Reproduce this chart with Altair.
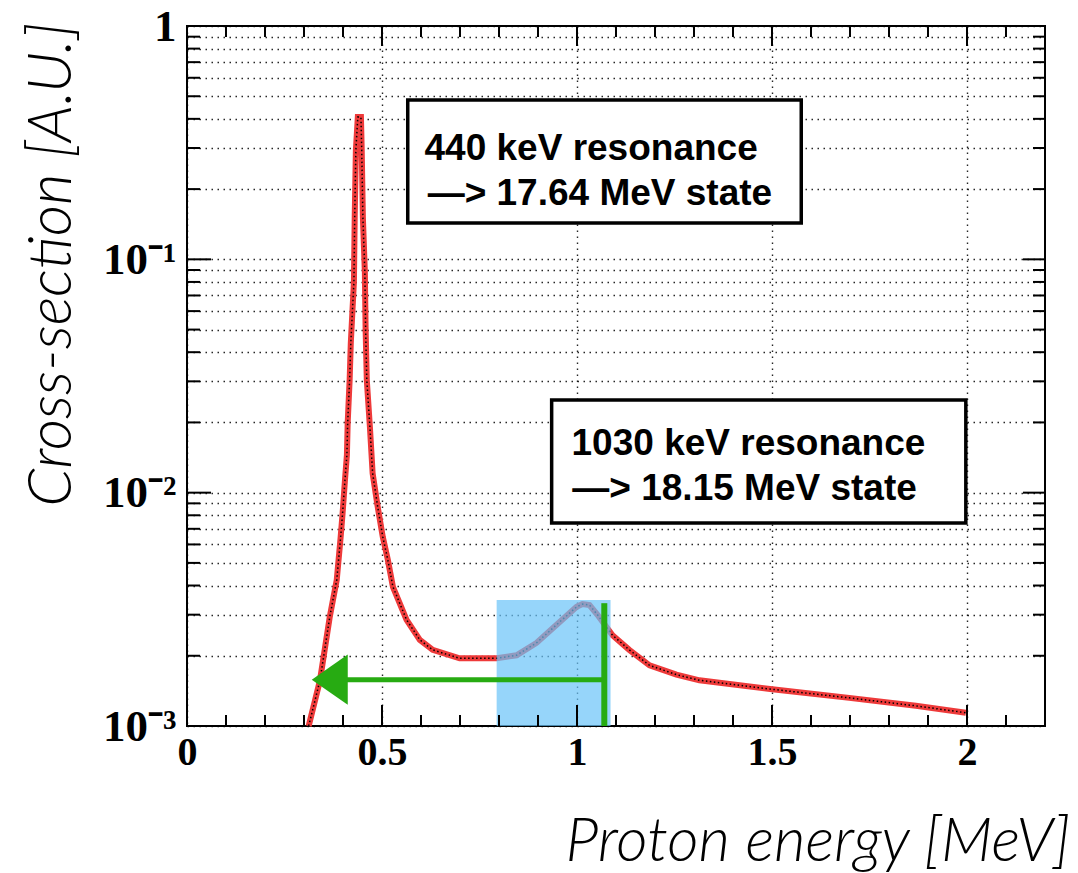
import altair as alt
import pandas as pd

# ---- data ----
energy = [0.312, 0.341, 0.366, 0.384, 0.394, 0.399, 0.405, 0.410, 0.412, 0.417,
          0.420, 0.428, 0.430, 0.433, 0.438, 0.446, 0.448, 0.451, 0.456, 0.458,
          0.461, 0.469, 0.476, 0.489, 0.502, 0.515, 0.528, 0.563, 0.597, 0.630,
          0.699, 0.794, 0.845, 0.896, 0.947, 0.999, 1.014, 1.032, 1.053, 1.075,
          1.091, 1.134, 1.186, 1.255, 1.314, 1.495, 1.698, 1.869, 1.997]
xsec = [1.0e-3, 1.57e-3, 2.93e-3, 4.23e-3, 6.46e-3, 8.18e-3, 0.0113, 0.0145, 0.0199, 0.0304,
        0.0438, 0.080, 0.151, 0.294, 0.407, 0.407, 0.294, 0.151, 0.0883, 0.0498,
        0.0304, 0.0191, 0.0121, 8.69e-3, 6.46e-3, 5.15e-3, 3.95e-3, 2.85e-3, 2.34e-3, 2.12e-3,
        1.95e-3, 1.95e-3, 2.01e-3, 2.27e-3, 2.71e-3, 3.24e-3, 3.33e-3, 3.30e-3, 2.99e-3, 2.66e-3,
        2.45e-3, 2.12e-3, 1.82e-3, 1.66e-3, 1.57e-3, 1.44e-3, 1.32e-3, 1.22e-3, 1.14e-3]

x_labels = [0, 0.5, 1, 1.5, 2]
x_minor_ticks = [0.1, 0.2, 0.3, 0.4, 0.6, 0.7, 0.8, 0.9, 1.1, 1.2, 1.3, 1.4,
                 1.6, 1.7, 1.8, 1.9, 2.1]
y_major = [0.001, 0.01, 0.1, 1]
y_minor = [round(m * 10 ** k, 6) for k in (-3, -2, -1) for m in range(2, 10)]
y_grid = sorted(y_major + y_minor)

# highlighted window around the 1030 keV resonance
window_x = [0.794, 1.086]
window_y = [0.001, 3.47e-3]

# green arrow
arrow_x = [0.366, 1.070]
arrow_level = 1.58e-3
marker_x = 1.070
marker_y = [0.001, 3.36e-3]

# annotation boxes
box_x = [0.566, 0.935]
box_x2 = [1.575, 1.997]
box_y = [0.1432, 7.41e-3]
box_y2 = [0.482, 0.02494]
note_text = ["440 keV resonance", "\u2014> 17.64 MeV state",
             "1030 keV resonance", "\u2014> 18.15 MeV state"]
note_x = [0.609, 0.617, 0.986, 0.988]
note_y = [0.2667, 0.171, 0.01452, 9.31e-3]

W, H = 858, 700
xscale = alt.Scale(domain=[0, 2.2], nice=False, zero=False)
yscale = alt.Scale(type="log", domain=[0.001, 1], nice=False)

curve_df = pd.DataFrame({"E": energy, "v": xsec})

y_label_expr = ("datum.value == 1 ? '1' : datum.value == 0.1 ? '10\u207b\u00b9' : "
                "datum.value == 0.01 ? '10\u207b\u00b2' : datum.value == 0.001 ? '10\u207b\u00b3' : ''")

base_axis = dict(grid=True, gridColor="#000000", gridDash=[1.5, 4.5], gridWidth=1.4,
                 gridOpacity=0.85, ticks=False, domain=False,
                 labelFont="Liberation Serif", labelFontWeight="bold",
                 labelColor="#000000", titleFont="Lato", titleFontStyle="italic",
                 titleFontWeight=300, titleFontSize=61, titleColor="#000000")

curve = alt.Chart(curve_df).mark_line(color="#ee3a3a", strokeWidth=6).encode(
    x=alt.X("E:Q", scale=xscale,
            axis=alt.Axis(values=x_labels, labelExpr="'' + datum.value", labelPadding=6,
                          labelFontSize=40,
                          title="Proton energy [MeV]", titleX=883, titleY=134,
                          titleAlign="right", titleBaseline="alphabetic", labelFlush=False,
                          **base_axis)),
    y=alt.Y("v:Q", scale=yscale,
            axis=alt.Axis(values=y_grid, labelExpr=y_label_expr, labelPadding=11,
                          labelFontSize=45,
                          title="Cross-section [A.U.]", titleX=-117, titleY=238,
                          titleAlign="center", titleBaseline="alphabetic", titleAngle=270,
                          labelFlush=False, **base_axis)),
)
dots = alt.Chart(curve_df).mark_line(color="#000000", strokeWidth=1.5,
                                      strokeDash=[1.5, 2.5]).encode(
    x=alt.X("E:Q", scale=xscale), y=alt.Y("v:Q", scale=yscale))

window = alt.Chart(pd.DataFrame({"x": [window_x[0]], "x2": [window_x[1]],
                                 "y": [window_y[0]], "y2": [window_y[1]]})).mark_rect(
    color="#69c3f8", opacity=0.7).encode(
    x=alt.X("x:Q", scale=xscale), x2="x2:Q", y=alt.Y("y:Q", scale=yscale), y2="y2:Q")

green = "#27ab12"
arrow_line = alt.Chart(pd.DataFrame({"x": [arrow_x[0]], "x2": [arrow_x[1]],
                                     "y": [arrow_level]})).mark_rule(
    color=green, strokeWidth=5).encode(
    x=alt.X("x:Q", scale=xscale), x2="x2:Q", y=alt.Y("y:Q", scale=yscale))
arrow_head = alt.Chart(pd.DataFrame({"x": [arrow_x[0]], "y": [arrow_level]})).mark_point(
    shape="M-1,0L1,-1.4L1,1.4Z", size=1296, filled=True, color=green, opacity=1).encode(
    x=alt.X("x:Q", scale=xscale), y=alt.Y("y:Q", scale=yscale))
marker_line = alt.Chart(pd.DataFrame({"x": [marker_x], "y": [marker_y[0]],
                                      "y2": [marker_y[1]]})).mark_rule(
    color=green, strokeWidth=6).encode(
    x=alt.X("x:Q", scale=xscale), y=alt.Y("y:Q", scale=yscale), y2="y2:Q")

boxes = alt.Chart(pd.DataFrame({"x": box_x, "x2": box_x2, "y": box_y, "y2": box_y2})).mark_rect(
    fill="#ffffff", stroke="#000000", strokeWidth=3.5).encode(
    x=alt.X("x:Q", scale=xscale), x2="x2:Q", y=alt.Y("y:Q", scale=yscale), y2="y2:Q")
notes = alt.Chart(pd.DataFrame({"x": note_x, "y": note_y, "t": note_text})).mark_text(
    font="Liberation Sans", fontWeight="bold", fontSize=37, align="left",
    baseline="alphabetic", color="#000000").encode(
    x=alt.X("x:Q", scale=xscale), y=alt.Y("y:Q", scale=yscale), text="t:N")

# inward ROOT-style ticks
def xticks(vals, y0, y1):
    return alt.Chart(pd.DataFrame({"E": vals})).mark_rule(color="#000000", strokeWidth=2).encode(
        x=alt.X("E:Q", scale=xscale), y=alt.value(y0), y2=alt.value(y1))

def yticks(vals, x0, x1):
    return alt.Chart(pd.DataFrame({"v": vals})).mark_rule(color="#000000", strokeWidth=2).encode(
        y=alt.Y("v:Q", scale=yscale), x=alt.value(x0), x2=alt.value(x1))

ticks = [
    xticks(x_minor_ticks, H, H - 11), xticks(x_labels, H, H - 21),
    xticks(x_minor_ticks, 0, 11), xticks(x_labels, 0, 20),
    yticks(y_minor, 0, 13), yticks(y_major, 0, 24),
    yticks(y_minor, W, W - 12), yticks(y_major, W, W - 22),
]

chart = alt.layer(curve, dots, window, arrow_line, arrow_head, marker_line, boxes, notes,
                  *ticks).properties(
    width=W, height=H,
    autosize=alt.AutoSizeParams(type="none"),
    padding={"left": 187, "top": 26, "right": 33, "bottom": 147},
    background="#ffffff",
).configure_view(stroke="#000000", strokeWidth=2)

chart.save("out.html", embed_options={"renderer": "svg", "actions": False})
